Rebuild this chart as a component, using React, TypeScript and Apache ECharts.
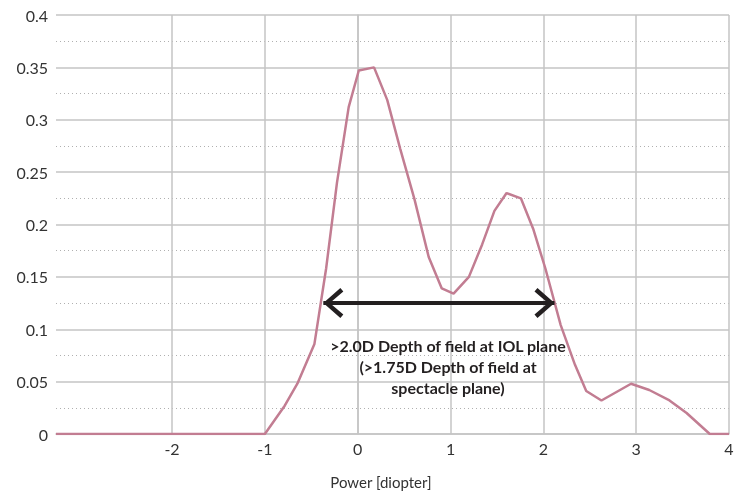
import React, { useEffect, useRef } from "react";
import * as echarts from "echarts";

// Power (diopter) and through-focus values
const powerD = [
  -3.25, -1.0, -0.786, -0.65, -0.466, -0.34, -0.223, -0.097, 0.012, 0.176,
  0.318, 0.459, 0.612, 0.765, 0.906, 1.033, 1.198, 1.341, 1.473, 1.604,
  1.758, 1.89, 2.022, 2.187, 2.341, 2.462, 2.626, 2.945, 3.141, 3.359,
  3.543, 3.793, 4.0,
];
const mtfValues = [
  0, 0, 0.027, 0.048, 0.086, 0.158, 0.24, 0.312, 0.347, 0.35,
  0.319, 0.272, 0.224, 0.169, 0.139, 0.134, 0.15, 0.181, 0.213, 0.23,
  0.225, 0.196, 0.158, 0.104, 0.066, 0.041, 0.032, 0.048, 0.042, 0.032,
  0.02, 0, 0,
];
const xTickValues = [-2, -1, 0, 1, 2, 3, 4];
const xMin = -3.25;
const xMax = 4;
const yMin = 0;
const yMax = 0.4;
const yStep = 0.05;

// Depth-of-field arrow (diopters, value)
const arrowFrom = -0.37;
const arrowTo = 2.12;
const arrowY = 0.125;
const annotationLines = [
  ">2.0D Depth of field at IOL plane",
  "(>1.75D Depth of field at",
  "spectacle plane)",
];
const xAxisTitle = "Power [diopter]";

const CHEVRON = "path://M15 0 L30 17 L26.5 20 L15 6.5 L3.5 20 L0 17 Z";

export default function App() {
  const ref = useRef<HTMLDivElement>(null);
  useEffect(() => {
    if (!ref.current) return;
    const chart = echarts.init(ref.current, null, { renderer: "svg" });
    const font = "Lato, 'Open Sans', sans-serif";
    const gridColor = "#C4C4C4";
    chart.setOption({
      animation: false,
      textStyle: { fontFamily: font },
      grid: { left: 56, right: 11, top: 15, bottom: 58, containLabel: false },
      xAxis: {
        type: "value",
        min: xMin,
        max: xMax,
        name: xAxisTitle,
        nameLocation: "middle",
        nameGap: 40,
        nameTextStyle: {
          fontSize: 15,
          color: "#333",
          fontFamily: font,
          padding: [0, 23, 0, 0],
        },
        axisLine: { show: true, lineStyle: { color: gridColor, width: 1.5 } },
        axisTick: { show: false, customValues: xTickValues },
        axisLabel: {
          customValues: xTickValues,
          fontSize: 16,
          color: "#333",
          margin: 6,
          fontFamily: font,
        },
        splitLine: { show: true, lineStyle: { color: gridColor, width: 1.5 } },
      },
      yAxis: {
        type: "value",
        min: yMin,
        max: yMax,
        interval: yStep,
        axisLine: { show: true, lineStyle: { color: gridColor, width: 1.5 } },
        axisTick: { show: false },
        axisLabel: { fontSize: 16, color: "#333", margin: 8, fontFamily: font },
        splitLine: { show: true, lineStyle: { color: gridColor, width: 1.5 } },
        minorTick: { show: false, splitNumber: 2 },
        minorSplitLine: {
          show: true,
          lineStyle: { color: "#B0B0B0", width: 1, type: [1, 3] },
        },
      },
      series: [
        {
          type: "line",
          data: powerD.map((x, i) => [x, mtfValues[i]]),
          showSymbol: false,
          symbol: "none",
          lineStyle: { color: "#C27D92", width: 2.5 },
          itemStyle: { color: "#C27D92" },
          z: 3,
          markLine: {
            silent: true,
            animation: false,
            symbol: [CHEVRON, CHEVRON],
            symbolSize: 30,
            symbolKeepAspect: true,
            symbolOffset: [[0, 10], [0, 10]],
            lineStyle: { color: "#231F20", width: 4, type: "solid" },
            itemStyle: { color: "#231F20" },
            label: { show: false },
            emphasis: { disabled: true },
            data: [[{ coord: [arrowFrom, arrowY] }, { coord: [arrowTo, arrowY] }]],
          },
        },
      ],
      graphic: [
        {
          type: "text",
          x: 448,
          y: 335,
          z: 10,
          style: {
            text: annotationLines.join("\n"),
            fontFamily: font,
            fontWeight: "bold",
            fontSize: 16,
            lineHeight: 21,
            fill: "#231F20",
            textAlign: "center",
          },
        },
      ],
    });
    return () => chart.dispose();
  }, []);
  return (
    <div
      ref={ref}
      style={{ position: "fixed", left: 0, top: 0, width: 740, height: 494 }}
    />
  );
}
